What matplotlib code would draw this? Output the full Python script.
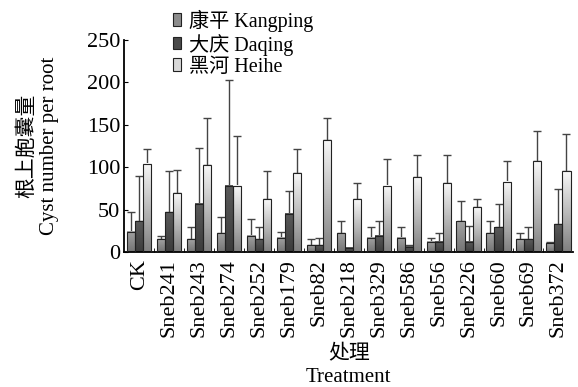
"""根上胞囊量 柱状图 (三个地点)."""
import numpy as np
import matplotlib
matplotlib.use("Agg")
import matplotlib.pyplot as plt
from matplotlib.colors import LinearSegmentedColormap
from matplotlib.patches import Patch

plt.rcParams["font.family"] = ["Liberation Serif", "Noto Sans CJK SC"]
plt.rcParams["font.size"] = 16

treatments = ["CK", "Sneb241", "Sneb243", "Sneb274", "Sneb252", "Sneb179", "Sneb82",
              "Sneb218", "Sneb329", "Sneb586", "Sneb56", "Sneb226", "Sneb60", "Sneb69", "Sneb372"]
series = ["康平 Kangping", "大庆 Daqing", "黑河 Heihe"]
kangping = [24, 15, 15, 22, 19, 17, 8, 22, 17, 17, 12, 36, 22, 15, 10]
kangping_err = [23, 4, 14, 19, 20, 7, 7, 14, 12, 12, 5, 24, 14, 7, 2]
daqing = [36, 47, 57, 78, 15, 45, 8, 5, 19, 6, 12, 12, 29, 15, 33]
daqing_err = [54, 48, 66, 125, 14, 27, 9, 0, 17, 2, 10, 19, 28, 14, 41]
heihe = [104, 69, 102, 78, 62, 93, 132, 62, 78, 88, 81, 53, 83, 107, 95]
heihe_err = [17, 28, 56, 59, 33, 28, 26, 19, 31, 26, 33, 9, 24, 35, 44]

# top -> bottom gradient colours
grads = [("#a2a2a2", "#747474"), ("#5a5a5a", "#3c3c3c"), ("#f7f7f7", "#808080")]
legend_cols = ["#8c8c8c", "#4a4a4a", "#d8d8d8"]

fig = plt.figure(figsize=(5.78, 3.87), dpi=100)
ax = fig.add_axes([0.215, 0.349, 0.777, 0.548])

x = np.arange(len(treatments))
w = 0.27
data = [(kangping, kangping_err), (daqing, daqing_err), (heihe, heihe_err)]
for j, (vals, errs) in enumerate(data):
    xs = x + (j - 1) * w
    cmap = LinearSegmentedColormap.from_list(f"g{j}", [grads[j][1], grads[j][0]])
    bars = ax.bar(xs, vals, w, color="none", edgecolor="#222222", lw=0.8, zorder=3)
    for b in bars:
        x0, h = b.get_x(), b.get_height()
        ax.imshow(np.linspace(0, 1, 50).reshape(-1, 1), cmap=cmap, origin="lower",
                  extent=[x0, x0 + w, 0, h], aspect="auto", zorder=2)
    ax.errorbar(xs, vals, yerr=[np.zeros(len(vals)), errs], fmt="none",
                ecolor="#444444", elinewidth=1.0, capsize=3, capthick=1.0, zorder=1)

ax.set_xlim(-0.5, 14.5)
ax.set_ylim(0, 250)
ax.set_yticks(range(0, 251, 50))
ax.set_xticks(x)
ax.set_xticklabels(treatments, rotation=90, fontsize=16)
ax.set_xticks(x[:-1] + 0.5, minor=True)
ax.tick_params(axis="x", which="major", length=0, pad=5)
ax.tick_params(axis="x", which="minor", direction="in", length=3)
ax.tick_params(axis="y", direction="in", length=3, pad=3, labelsize=16)
for s in ("top", "right"):
    ax.spines[s].set_visible(False)
ax.spines["bottom"].set_linewidth(1.3)
ax.spines["left"].set_linewidth(1.3)

ax.set_ylabel("根上胞囊量\nCyst number per root", fontsize=15, labelpad=20, linespacing=1.2)
ax.set_xlabel("处理\nTreatment", fontsize=15, labelpad=6, linespacing=1.25)

handles = [Patch(facecolor=c, edgecolor="#222222", lw=0.8) for c in legend_cols]
fig.legend(handles, series, loc="upper left", bbox_to_anchor=(0.275, 1.012), frameon=False,
           handlelength=0.4, handleheight=0.55, handletextpad=0.4, labelspacing=0.1,
           borderpad=0.2, fontsize=14.5)

plt.savefig("out.png", dpi=100)
